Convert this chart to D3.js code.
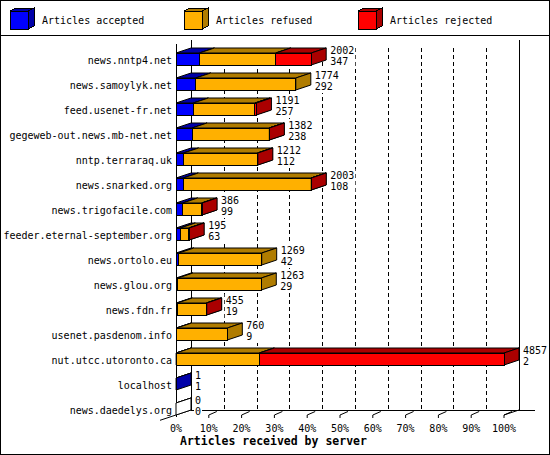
<!DOCTYPE html>
<html>
<head>
<meta charset="utf-8">
<script src="https://cdn.jsdelivr.net/npm/d3@7"></script>
<style>
  body { margin: 0; background: #fff; }
  text { font-family: "DejaVu Sans Mono", "Liberation Mono", monospace; font-size: 10px; fill: #000; }
  .title { font-weight: bold; font-size: 11.5px; }
</style>
</head>
<body>
<svg id="chart" width="550" height="455"></svg>
<script>
// ----------------------------------------------------------------
// 1. DATA
// ----------------------------------------------------------------
const servers = [
  "news.nntp4.net", "news.samoylyk.net", "feed.usenet-fr.net", "gegeweb-out.news.mb-net.net",
  "nntp.terraraq.uk", "news.snarked.org", "news.trigofacile.com", "feeder.eternal-september.org",
  "news.ortolo.eu", "news.glou.org", "news.fdn.fr", "usenet.pasdenom.info",
  "nut.utcc.utoronto.ca", "localhost", "news.daedelys.org"
];
const accepted = [347, 292, 257, 238, 112, 108, 99, 63, 42, 29, 19, 9, 2, 1, 0];
const refused  = [1130, 1482, 912, 1140, 1094, 1892, 281, 126, 1227, 1234, 431, 751, 1232, 0, 0];
const rejected = [525, 0, 22, 4, 6, 3, 6, 6, 0, 0, 5, 0, 3623, 0, 0];

const seriesNames = ["Articles accepted", "Articles refused", "Articles rejected"];
const xTicks = [0, 10, 20, 30, 40, 50, 60, 70, 80, 90, 100];

// front colour + shaded colour for top / side faces
const colors = [
  { front: "#0000ff", shade: "#0000a8" },
  { front: "#ffb000", shade: "#b07c00" },
  { front: "#ff0000", shade: "#aa0000" }
];

// ----------------------------------------------------------------
// 2. SVG + SCALES
// ----------------------------------------------------------------
const svg = d3.select("#chart");
const W = 550, H = 455;
const depth = [15, -5];    // 3d offset of the back wall
const barHalf = 6;

const totals = servers.map((s, i) => accepted[i] + refused[i] + rejected[i]);
const maxTotal = d3.max(totals);

const x = d3.scaleLinear().domain([0, 100]).range([176, 504]);
const y = d3.scalePoint().domain(servers).range([59, 409]);
const pct = v => v / maxTotal * 100;

// frame + legend separator
svg.append("rect").attr("x", 0.5).attr("y", 0.5).attr("width", W - 1).attr("height", H - 1)
  .attr("fill", "#fff").attr("stroke", "#000");
svg.append("line").attr("x1", 0).attr("x2", W).attr("y1", 35.5).attr("y2", 35.5).attr("stroke", "#000");

// ----------------------------------------------------------------
// 3. LEGEND (little 3d cubes)
// ----------------------------------------------------------------
const legendX = [10, 184, 358];
const legend = svg.append("g");
seriesNames.forEach((name, i) => {
  const lx = legendX[i], ly = 11, s = 18, dx = 6, dy = -3;
  const g = legend.append("g").attr("stroke", "#000").attr("shape-rendering", "crispEdges");
  g.append("polygon")
    .attr("points", [[lx, ly], [lx + dx, ly + dy], [lx + s + dx, ly + dy], [lx + s, ly]].join(" "))
    .attr("fill", colors[i].shade);
  g.append("polygon")
    .attr("points", [[lx + s, ly], [lx + s + dx, ly + dy], [lx + s + dx, ly + s + dy], [lx + s, ly + s]].join(" "))
    .attr("fill", colors[i].shade);
  g.append("rect").attr("x", lx + 0.5).attr("y", ly + 0.5).attr("width", s).attr("height", s)
    .attr("fill", colors[i].front);
  legend.append("text").attr("x", lx + 32).attr("y", 24).text(name);
});

// ----------------------------------------------------------------
// 4. BACK WALL, GRID, FLOOR
// ----------------------------------------------------------------
const axes = svg.append("g").attr("stroke", "#000").attr("fill", "none").attr("shape-rendering", "crispEdges");
const backTop = 40, backBottom = 410;

// dashed grid lines on the back wall
axes.selectAll("line.grid")
  .data(xTicks.slice(1, -1))
  .join("line")
    .attr("class", "grid")
    .attr("x1", d => Math.round(x(d) + depth[0]) + 0.5)
    .attr("x2", d => Math.round(x(d) + depth[0]) + 0.5)
    .attr("y1", backTop + 8).attr("y2", backBottom)
    .attr("stroke-dasharray", "4,3");

// back wall left + right edges, bottom line
axes.append("line").attr("x1", x(0) + depth[0] + 0.5).attr("x2", x(0) + depth[0] + 0.5)
  .attr("y1", backTop).attr("y2", backBottom);
axes.append("line").attr("x1", x(100) + depth[0] + 0.5).attr("x2", x(100) + depth[0] + 0.5)
  .attr("y1", backTop).attr("y2", backBottom);
axes.append("line").attr("x1", x(0) + depth[0]).attr("x2", x(100) + depth[0] + 16)
  .attr("y1", backBottom + 0.5).attr("y2", backBottom + 0.5);

// front left axis
axes.append("line").attr("x1", x(0) + 0.5).attr("x2", x(0) + 0.5)
  .attr("y1", backTop + 4).attr("y2", backBottom + 7);

// floor diagonals (no crisp edges for slanted lines)
const diag = svg.append("g").attr("stroke", "#000").attr("fill", "none");
diag.append("line").attr("x1", x(0) - 16).attr("y1", backBottom - depth[1] + 5.3)
  .attr("x2", x(0) + depth[0]).attr("y2", backBottom);
diag.append("line").attr("x1", x(100)).attr("y1", backBottom - depth[1])
  .attr("x2", x(100) + depth[0]).attr("y2", backBottom);

// 3d ticks along the bottom
diag.selectAll("path.tick")
  .data(xTicks.slice(1))
  .join("path")
    .attr("class", "tick")
    .attr("d", d => `M${x(d)},${backBottom + 8}L${x(d)},${backBottom + 5}L${x(d) + 8},${backBottom + 1.5}`);

// x tick labels + title
svg.append("g").selectAll("text")
  .data(xTicks)
  .join("text")
    .attr("x", d => x(d))
    .attr("y", 432)
    .attr("text-anchor", "middle")
    .text(d => d + "%");

svg.append("text").attr("class", "title").attr("x", 180).attr("y", 444.5)
  .text("Articles received by server");

// ----------------------------------------------------------------
// 5. BARS (stacked 3d boxes)
// ----------------------------------------------------------------
const bars = svg.append("g").attr("stroke", "#000").attr("stroke-linejoin", "miter");
const valueLabels = svg.append("g");

servers.forEach((server, i) => {
  const values = [accepted[i], refused[i], rejected[i]];
  const cy = y(server);
  const top = cy - barHalf, bottom = cy + barHalf;
  let cum = 0;
  const segs = [];
  values.forEach((v, k) => {
    if (v > 0) segs.push({ x0: x(pct(cum)), x1: x(pct(cum + v)), c: colors[k] });
    cum += v;
  });
  // empty row still gets an outlined zero-width box
  if (segs.length === 0) segs.push({ x0: x(0), x1: x(0), c: { front: "#fff", shade: "#fff" } });

  segs.forEach(s => {
    const [dx, dy] = depth;
    const g = bars.append("g");
    g.append("polygon")   // top face
      .attr("points", [[s.x0, top], [s.x0 + dx, top + dy], [s.x1 + dx, top + dy], [s.x1, top]].join(" "))
      .attr("fill", s.c.shade);
    g.append("polygon")   // right side face
      .attr("points", [[s.x1, top], [s.x1 + dx, top + dy], [s.x1 + dx, bottom + dy], [s.x1, bottom]].join(" "))
      .attr("fill", s.c.shade);
    g.append("rect")      // front face
      .attr("x", s.x0).attr("y", top)
      .attr("width", s.x1 - s.x0).attr("height", bottom - top)
      .attr("fill", s.c.front)
      .attr("shape-rendering", "crispEdges");
  });

  // value labels: total over accepted, on a white patch that hides the grid
  const lx = x(pct(totals[i])) + depth[0] + 4;
  const bg = valueLabels.append("rect").attr("fill", "#fff");
  const t1 = valueLabels.append("text").attr("x", lx).attr("y", cy - 5.5).text(totals[i]);
  const t2 = valueLabels.append("text").attr("x", lx).attr("y", cy + 6).text(accepted[i]);
  const w = Math.max(t1.node().getComputedTextLength(), t2.node().getComputedTextLength());
  bg.attr("x", lx - 1).attr("y", cy - 15).attr("width", w + 2).attr("height", 24);
});

// category labels
svg.append("g").selectAll("text")
  .data(servers)
  .join("text")
    .attr("x", 172)
    .attr("y", d => y(d) + 4.5)
    .attr("text-anchor", "end")
    .text(d => d);
</script>
</body>
</html>
